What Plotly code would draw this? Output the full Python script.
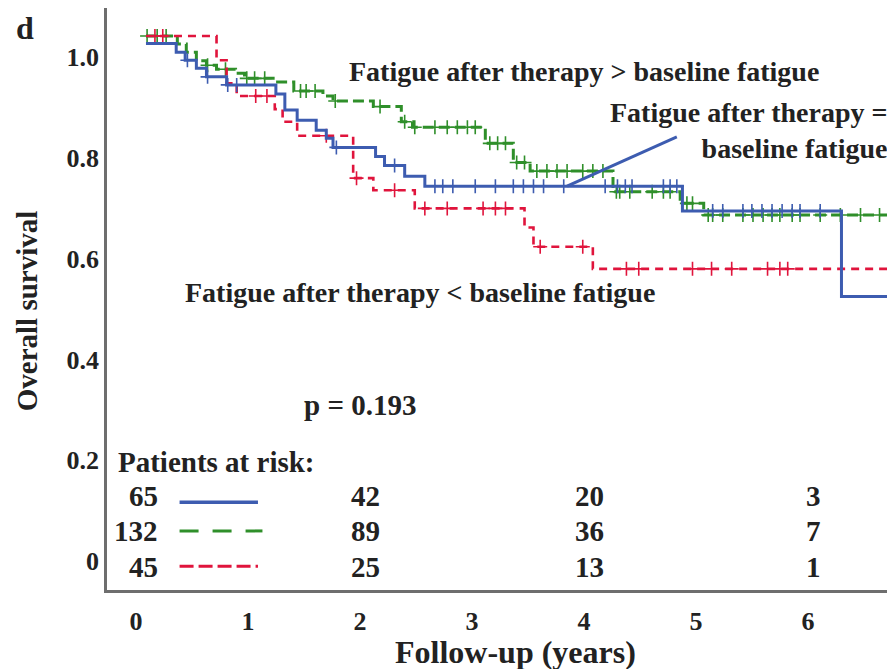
import numpy as np
import plotly.graph_objects as go

# ---------------- data ----------------
years_ticks = [0, 1, 2, 3, 4, 5, 6]
surv_ticks = [0, 0.2, 0.4, 0.6, 0.8, 1.0]
surv_ticktext = ["0", "0.2", "0.4", "0.6", "0.8", "1.0"]

# Fatigue after therapy = baseline fatigue (blue)
blue_t = [0, 0.27, 0.35, 0.45, 0.54, 0.72, 1.16, 1.24, 1.35, 1.52, 1.61, 1.67,
          2.05, 2.13, 2.31, 2.49, 4.79, 6.21]
blue_s = [0.985, 0.968, 0.952, 0.936, 0.919, 0.903, 0.885, 0.853, 0.833, 0.813,
          0.797, 0.779, 0.761, 0.743, 0.722, 0.702, 0.653, 0.483]
blue_cens = [0.37, 0.55, 0.73, 0.81, 1.70, 2.22, 2.58, 2.65, 2.74, 2.94, 3.12,
             3.28, 3.37, 3.46, 3.55, 3.73, 4.10, 4.21, 4.28, 4.34, 4.62, 4.68,
             4.74, 5.06, 5.15, 5.33, 5.41, 5.50, 5.59, 5.68, 5.77, 5.84, 6.02]

# Fatigue after therapy > baseline fatigue (green)
green_t = [0, 0.28, 0.36, 0.45, 0.54, 0.63, 0.80, 0.88, 1.15, 1.32, 1.58, 1.67,
           2.03, 2.28, 2.38, 3.03, 3.28, 3.43, 4.17, 4.77, 4.98]
green_s = [1.0, 0.984, 0.968, 0.951, 0.942, 0.934, 0.926, 0.916, 0.909, 0.891,
           0.881, 0.871, 0.860, 0.830, 0.819, 0.787, 0.749, 0.732, 0.691, 0.668,
           0.645]
green_cens = [0.01, 0.10, 0.18, 0.55, 0.71, 0.90, 0.97, 1.06, 1.38, 1.43, 1.51,
              1.69, 2.09, 2.31, 2.40, 2.58, 2.69, 2.78, 2.87, 2.94, 3.07, 3.14,
              3.21, 3.31, 3.38, 3.49, 3.58, 3.67, 3.76, 3.90, 3.99, 4.08, 4.20,
              4.23, 4.32, 4.52, 4.62, 4.68, 4.83, 4.88, 5.02, 5.06, 5.15, 5.33,
              5.42, 5.51, 5.59, 5.66, 5.77, 5.84, 6.02, 6.20, 6.38, 6.55]

# Fatigue after therapy < baseline fatigue (red)
red_t = [0, 0.63, 0.72, 0.81, 1.15, 1.22, 1.35, 1.85, 2.03, 2.40, 3.38, 3.46, 3.99]
red_s = [1.0, 0.952, 0.906, 0.881, 0.855, 0.830, 0.802, 0.718, 0.694, 0.658,
         0.620, 0.582, 0.538]
red_cens = [0.08, 0.15, 0.98, 1.08, 1.61, 1.88, 2.22, 2.49, 2.69, 3.01, 3.12,
            3.21, 3.52, 3.90, 4.29, 4.40, 4.88, 5.05, 5.23, 5.55, 5.66, 5.73]

# patients at risk
risk_times = [0, 2, 4, 6]
risk_blue = [65, 42, 20, 3]
risk_green = [132, 89, 36, 7]
risk_red = [45, 25, 13, 1]

p_value_text = "p = 0.193"
x_title = "Follow-up (years)"
y_title = "Overall survival"

# ---------------- styling ----------------
BLUE = "#3d5cb0"
GREEN = "#2f8f2a"
RED = "#e0143c"
TXT = "#222222"
FONT = "Liberation Serif"
X_END = 6.75

fig = go.Figure()


def km(times, surv, cens, color, dash, width):
    xs = list(times) + [X_END]
    ys = list(surv) + [surv[-1]]
    fig.add_trace(go.Scatter(x=xs, y=ys, mode="lines", line_shape="hv",
                             line=dict(color=color, width=width, dash=dash),
                             hoverinfo="skip"))
    idx = np.searchsorted(np.array(times), np.array(cens), side="right") - 1
    cy = np.array(surv)[idx]
    fig.add_trace(go.Scatter(x=cens, y=cy, mode="markers",
                             marker=dict(symbol="cross-thin", size=10,
                                         line=dict(color=color, width=1.6)),
                             hoverinfo="skip"))


km(green_t, green_s, green_cens, GREEN, "11px,5px", 3)
km(red_t, red_s, red_cens, RED, "8px,6px", 2.6)
km(blue_t, blue_s, blue_cens, BLUE, "solid", 3)

bold = dict(family=FONT, color=TXT, weight="bold")

annotations = [
    dict(text="d", x=0.0, y=1.0, xref="paper", yref="paper", xshift=-82,
         xanchor="center", yanchor="top", yshift=0, showarrow=False,
         font=dict(size=32, **bold)),
    # axis titles
    dict(text=x_title, x=0.519, y=-0.1065, xref="paper", yref="paper",
         xanchor="center", yanchor="middle", showarrow=False,
         font=dict(size=32, **bold)),
    dict(text=y_title, x=-0.1015, y=0.479, xref="paper", yref="paper",
         xanchor="center", yanchor="middle", textangle=-90, showarrow=False,
         font=dict(size=29, **bold)),
    # curve labels
    dict(text="Fatigue after therapy > baseline fatigue", x=3.91, y=0.93,
         showarrow=False, font=dict(size=28, **bold)),
    dict(text="Fatigue after therapy =<br>baseline fatigue", x=6.63, y=0.813,
         xanchor="right", align="right", showarrow=False,
         font=dict(size=28, **bold)),
    dict(text="Fatigue after therapy < baseline fatigue", x=2.45, y=0.492,
         showarrow=False, font=dict(size=28, **bold)),
    dict(text=p_value_text, x=1.91, y=0.268, showarrow=False,
         font=dict(size=29, **bold)),
    dict(text="Patients at risk:", x=-0.27, y=0.155, xanchor="left",
         showarrow=False, font=dict(size=29, **bold)),
]

row_y = [0.087, 0.018, -0.053]
for counts, yy in zip([risk_blue, risk_green, risk_red], row_y):
    for j, (t, n) in enumerate(zip(risk_times, counts)):
        if j == 0:
            annotations.append(dict(text=str(n), x=t, y=yy, xanchor="right",
                                    xshift=14, showarrow=False,
                                    font=dict(size=29, **bold)))
        else:
            annotations.append(dict(text=str(n), x=t, y=yy, xanchor="center",
                                    xshift=-4, showarrow=False,
                                    font=dict(size=29, **bold)))

shapes = [
    # pointer from the blue curve to its label
    dict(type="line", x0=3.76, y0=0.702, x1=4.74, y1=0.80,
         line=dict(color=BLUE, width=3)),
    # line keys of the at-risk table
    dict(type="line", x0=0.30, y0=0.075, x1=1.0, y1=0.075,
         line=dict(color=BLUE, width=3.5)),
    dict(type="line", x0=0.30, y0=0.018, x1=1.04, y1=0.018,
         line=dict(color=GREEN, width=3, dash="19px,14px")),
    dict(type="line", x0=0.30, y0=-0.052, x1=1.0, y1=-0.052,
         line=dict(color=RED, width=3, dash="14px,5px")),
]

# the page body adds an 8px margin, so the figure is 8px smaller each way
fig.update_layout(
    width=887, height=661,
    margin=dict(l=99, r=0, t=0, b=79),
    plot_bgcolor="white", paper_bgcolor="white",
    showlegend=False,
    font=dict(family=FONT, color=TXT),
    annotations=annotations,
    shapes=shapes,
    xaxis=dict(range=[-0.348, 6.688], showline=True, linecolor="#6e6e6e",
               linewidth=2.5, showgrid=False, zeroline=False,
               tickvals=years_ticks, ticks="", ticklabelshift=-10,
               ticklabelstandoff=6,
               tickfont=dict(size=26, **bold)),
    yaxis=dict(range=[-0.0992, 1.0556], showline=True, linecolor="#6e6e6e",
               linewidth=2.5, showgrid=False, zeroline=False,
               tickvals=surv_ticks, ticktext=surv_ticktext, ticks="",
               ticklabelshift=21, ticklabelstandoff=0,
               tickfont=dict(size=26, **bold)),
)

fig.write_html("out.html")
